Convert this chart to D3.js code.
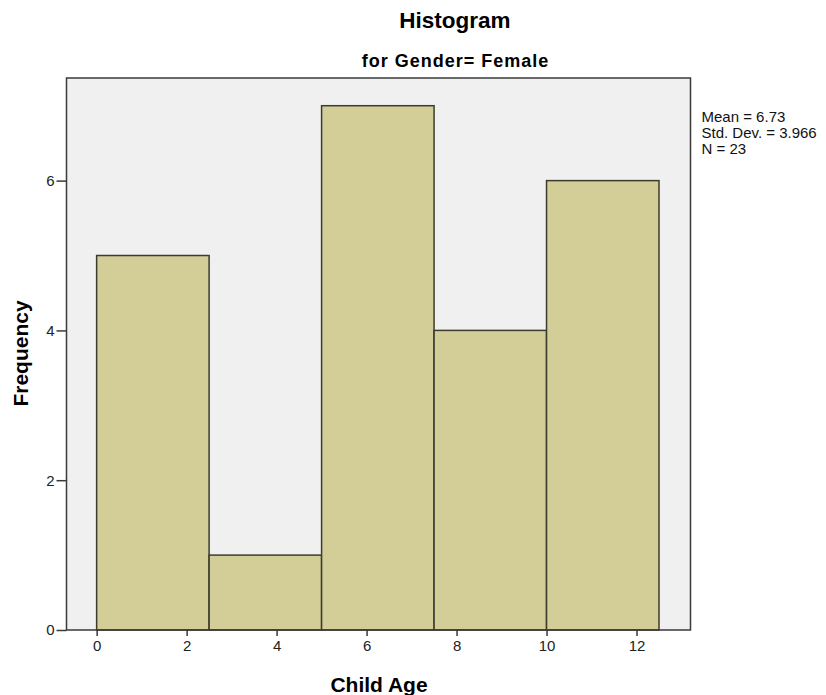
<!DOCTYPE html>
<html><head><meta charset="utf-8">
<script src="https://cdn.jsdelivr.net/npm/d3@7"></script>
<style>body{margin:0;background:#fff;font-family:"Liberation Sans",Arial,sans-serif;}</style>
</head><body>
<svg id="c" width="826" height="695"></svg>
<script>
const binStarts = [0, 2.5, 5, 7.5, 10];
const binWidth = 2.5;
const frequencies = [5, 1, 7, 4, 6];
const xTicks = [0, 2, 4, 6, 8, 10, 12];
const yTicks = [0, 2, 4, 6];
const statsLines = ["Mean = 6.73", "Std. Dev. = 3.966", "N = 23"];

const svg = d3.select("#c");
const F = "Liberation Sans, Arial, sans-serif";
const L = 66.5, R = 690.5, T = 78, B = 630;
const x = d3.scaleLinear().domain([-0.67, 13.2]).range([L, R]);
const y = d3.scaleLinear().domain([0, 7.37]).range([B, T]);

svg.append("rect").attr("x", L).attr("y", T).attr("width", R - L).attr("height", B - T)
  .attr("fill", "#f0f0f0");

svg.append("g").selectAll("rect").data(binStarts).join("rect")
  .attr("x", (d) => x(d)).attr("y", (d, i) => y(frequencies[i]))
  .attr("width", (d) => x(d + binWidth) - x(d))
  .attr("height", (d, i) => y(0) - y(frequencies[i]))
  .attr("fill", "#d3ce97").attr("stroke", "#3b3b2e").attr("stroke-width", 1.5);

const xa = svg.append("g").attr("transform", `translate(0,${B})`)
  .call(d3.axisBottom(x).tickValues(xTicks).tickSize(6).tickPadding(4).tickSizeOuter(0));
const ya = svg.append("g").attr("transform", `translate(${L},0)`)
  .call(d3.axisLeft(y).tickValues(yTicks).tickSize(10).tickPadding(2).tickSizeOuter(0));
[xa, ya].forEach(a => {
  a.select(".domain").remove();
  a.selectAll("line").attr("stroke", "#3a3a3a").attr("stroke-width", 1.5);
  a.selectAll("text").attr("font-family", F).attr("font-size", 15).attr("fill", "#222");
});
svg.append("rect").attr("x", L).attr("y", T).attr("width", R - L).attr("height", B - T)
  .attr("fill", "none").attr("stroke", "#3a3a3a").attr("stroke-width", 1.5);

svg.append("text").attr("x", 455).attr("y", 28).attr("text-anchor", "middle")
  .attr("font-size", 22.5).attr("font-weight", "bold").text("Histogram");
svg.append("text").attr("x", 455.5).attr("y", 66.5).attr("text-anchor", "middle")
  .attr("font-size", 18).attr("letter-spacing", 1).attr("font-weight", "bold").text("for Gender= Female");
svg.append("text").attr("x", 379).attr("y", 692).attr("text-anchor", "middle")
  .attr("font-size", 21).attr("font-weight", "bold").text("Child Age");
svg.append("text").attr("transform", "translate(28,353.5) rotate(-90)").attr("text-anchor", "middle")
  .attr("font-size", 21).attr("font-weight", "bold").text("Frequency");

svg.append("g").selectAll("text").data(statsLines).join("text")
  .attr("x", 701.5).attr("y", (d, i) => 122.3 + i * 16)
  .attr("font-size", 15).attr("fill", "#111").text(d => d);
</script>
</body></html>
